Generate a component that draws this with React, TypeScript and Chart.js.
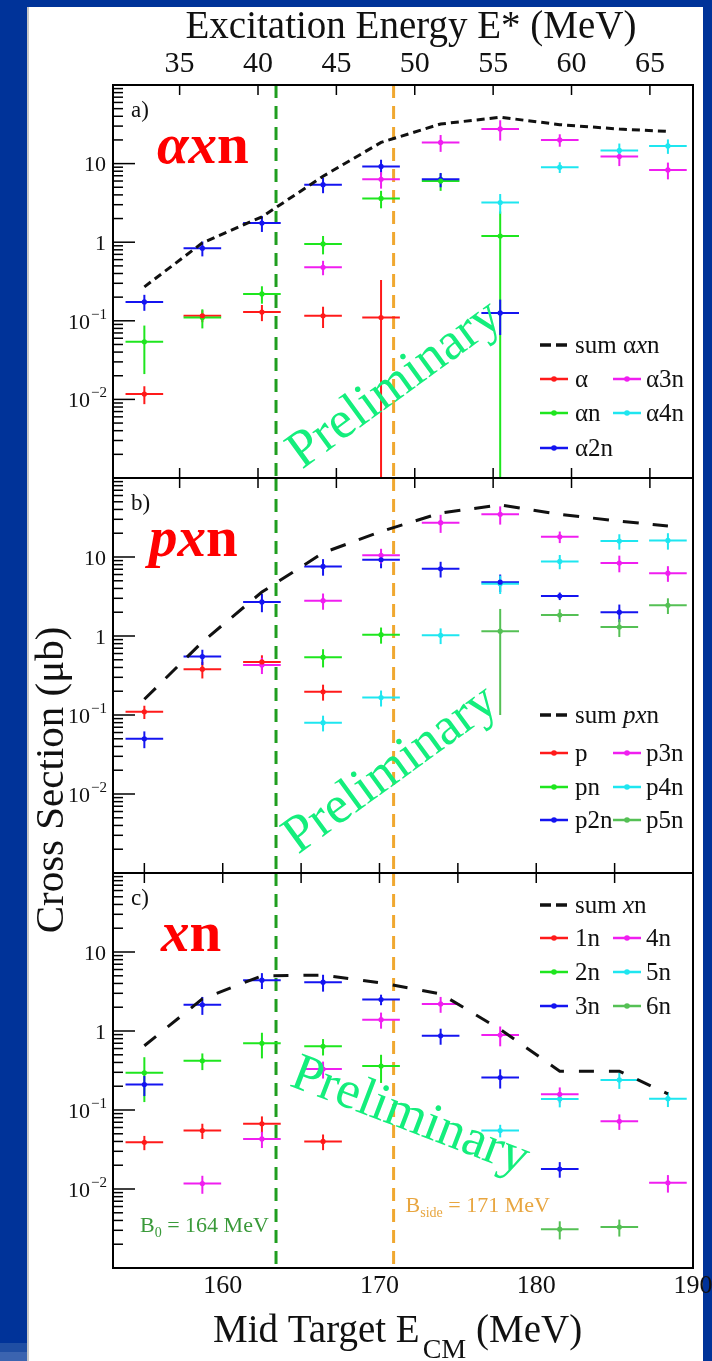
import React, { useEffect, useRef } from "react";
import { Chart, registerables } from "chart.js";
Chart.register(...registerables);

// ---------- data ----------
const E_CM = [155.0, 158.7, 162.5, 166.4, 170.1, 173.9, 177.7, 181.5, 185.3, 188.4];
const X_HALF = 1.2;
const X_MIN = 153.0;
const X_MAX = 190.0;
const Y_MIN = 1e-3;
const Y_MAX = 100;
const E_CM_TICKS = [155, 160, 165, 170, 175, 180, 185];
const E_CM_LABELS = [160, 170, 180, 190];
const E_STAR_TICKS = [35, 40, 45, 50, 55, 60, 65];
const E_STAR_OFFSET = 122.25;
const Y_LABEL_DECADES = [1, 0, -1, -2];
const B0 = 163.4;
const BSIDE = 170.9;

// panel a : alpha xn
const A_ALPHA = [0.0117, 0.116, 0.129, 0.116, 0.110, null, null, null, null, null];
const A_ALPHA_E = [0.003, 0.02, 0.03, 0.035, 0.22, null, null, null, null, null];
const A_ALPHA1N = [0.054, 0.11, 0.22, 0.95, 3.6, 6.0, 1.2, null, null, null];
const A_ALPHA1N_E = [0.033, 0.03, 0.055, 0.25, 0.9, 1.5, 1.25, null, null, null];
const A_ALPHA2N = [0.174, 0.84, 1.75, 5.4, 9.2, 6.3, 0.126, null, null, null];
const A_ALPHA2N_E = [0.04, 0.18, 0.4, 1.2, 2.0, 1.3, 0.06, null, null, null];
const A_ALPHA3N = [null, null, null, 0.48, 6.3, 18.6, 27.6, 20.0, 12.3, 8.3];
const A_ALPHA3N_E = [null, null, null, 0.1, 1.5, 4.5, 8.0, 3.6, 3.0, 2.0];
const A_ALPHA4N = [null, null, null, null, null, null, 3.2, 9.0, 14.7, 16.8];
const A_ALPHA4N_E = [null, null, null, null, null, null, 0.9, 1.4, 3.3, 3.5];
const A_SUM = [0.27, 0.98, 2.1, 6.9, 18.6, 31.9, 38.9, 31.3, 27.5, 25.7];

// panel b : p xn
const B_P = [0.11, 0.38, 0.47, 0.197, null, null, null, null, null, null];
const B_P_E = [0.021, 0.09, 0.1, 0.045, null, null, null, null, null, null];
const B_PN = [null, null, null, 0.54, 1.04, null, null, null, null, null];
const B_PN_E = [null, null, null, 0.14, 0.24, null, null, null, null, null];
const B_P2N = [0.05, 0.55, 2.7, 7.6, 9.2, 7.1, 4.8, 3.2, 2.0, null];
const B_P2N_E = [0.012, 0.12, 0.7, 1.8, 2.0, 1.6, 1.2, 0.35, 0.5, null];
const B_P3N = [null, null, 0.43, 2.8, 10.5, 27.2, 34.7, 18.0, 8.4, 6.25];
const B_P3N_E = [null, null, 0.1, 0.65, 2.2, 7.0, 9.0, 3.0, 2.0, 1.4];
const B_P4N = [null, null, null, 0.08, 0.166, 1.02, 4.6, 8.8, 15.9, 16.2];
const B_P4N_E = [null, null, null, 0.018, 0.038, 0.23, 1.2, 1.8, 3.5, 3.8];
const B_P5N = [null, null, null, null, null, null, 1.15, 1.84, 1.3, 2.45];
const B_P5N_E = [null, null, null, null, null, null, 1.05, 0.34, 0.33, 0.55];
const B_SUM = [0.158, 0.84, 3.6, 11.3, 21, 36, 45.7, 34.6, 28.5, 24.6];

// panel c : xn
const C_1N = [0.039, 0.055, 0.067, 0.04, null, null, null, null, null, null];
const C_1N_E = [0.008, 0.012, 0.016, 0.009, null, null, null, null, null, null];
const C_2N = [0.296, 0.42, 0.7, 0.64, 0.36, null, null, null, null, null];
const C_2N_E = [0.17, 0.1, 0.25, 0.15, 0.14, null, null, null, null, null];
const C_3N = [0.21, 2.15, 4.4, 4.15, 2.5, 0.87, 0.257, 0.0179, null, null];
const C_3N_E = [0.06, 0.55, 1.0, 1.0, 0.38, 0.2, 0.07, 0.004, null, null];
const C_4N = [null, 0.0117, 0.043, 0.33, 1.39, 2.2, 0.89, 0.158, 0.072, 0.012];
const C_4N_E = [null, 0.003, 0.01, 0.08, 0.32, 0.5, 0.25, 0.035, 0.016, 0.003];
const C_5N = [null, null, null, null, null, null, 0.055, 0.138, 0.24, 0.139];
const C_5N_E = [null, null, null, null, null, null, 0.01, 0.03, 0.055, 0.03];
const C_6N = [null, null, null, null, null, null, null, 0.0031, 0.0033, null];
const C_6N_E = [null, null, null, null, null, null, null, 0.0008, 0.0008, null];
const C_SUM = [0.65, 2.55, 5.0, 5.1, 4.07, 2.95, 1.05, 0.31, 0.31, 0.16];

// ---------- styles ----------
const FONT = '"Liberation Serif", "Times New Roman", serif';
const RED = "#ff1a1a";
const GREEN = "#1ee61e";
const BLUE = "#1414f0";
const MAGENTA = "#f01ef0";
const CYAN = "#1ee6f0";
const MIDGREEN = "#55c055";
const PRELIM = "#14ee7c";
const LINE_GREEN = "#1f9e1f";
const LINE_ORANGE = "#f0a830";
const PLOT_LEFT = 113;
const PLOT_RIGHT = 693;
const W = 712;
const H = 1361;

type Part = [string, string];
type Series = { label: Part[]; color: string; y: (number | null)[]; e: (number | null)[] };
type PanelCfg = {
  key: string;
  top: number;
  bottom: number;
  letter: string;
  big: Part[];
  series: Series[];
  sum: number[];
  sumDash: number[];
  sumLabel: Part[];
  legendY: number[];
  topTicks: "estar" | "ecm";
  bottomTicks: "estar" | "ecm" | "none";
  prelim: { dx: number; dy: number; angle: number };
};

const N = (s: string): Part => [s, "n"];
const I = (s: string): Part => [s, "i"];

const PANELS: PanelCfg[] = [
  {
    key: "a", top: 85, bottom: 478, letter: "a)",
    big: [["α", "bi"], ["x", "bi"], ["n", "b"]],
    series: [
      { label: [N("α")], color: RED, y: A_ALPHA, e: A_ALPHA_E },
      { label: [N("αn")], color: GREEN, y: A_ALPHA1N, e: A_ALPHA1N_E },
      { label: [N("α2n")], color: BLUE, y: A_ALPHA2N, e: A_ALPHA2N_E },
      { label: [N("α3n")], color: MAGENTA, y: A_ALPHA3N, e: A_ALPHA3N_E },
      { label: [N("α4n")], color: CYAN, y: A_ALPHA4N, e: A_ALPHA4N_E },
    ],
    sum: A_SUM, sumDash: [8, 5], sumLabel: [N("sum α"), I("x"), N("n")],
    legendY: [260, 294, 328, 363], topTicks: "estar", bottomTicks: "estar",
    prelim: { dx: 282, dy: 300, angle: -36 },
  },
  {
    key: "b", top: 478, bottom: 873, letter: "b)",
    big: [["px", "bi"], ["n", "b"]],
    series: [
      { label: [N("p")], color: RED, y: B_P, e: B_P_E },
      { label: [N("pn")], color: GREEN, y: B_PN, e: B_PN_E },
      { label: [N("p2n")], color: BLUE, y: B_P2N, e: B_P2N_E },
      { label: [N("p3n")], color: MAGENTA, y: B_P3N, e: B_P3N_E },
      { label: [N("p4n")], color: CYAN, y: B_P4N, e: B_P4N_E },
      { label: [N("p5n")], color: MIDGREEN, y: B_P5N, e: B_P5N_E },
    ],
    sum: B_SUM, sumDash: [16, 14], sumLabel: [N("sum "), I("px"), N("n")],
    legendY: [237, 275, 309, 342], topTicks: "estar", bottomTicks: "ecm",
    prelim: { dx: 278, dy: 292, angle: -36 },
  },
  {
    key: "c", top: 873, bottom: 1268, letter: "c)",
    big: [["x", "bi"], ["n", "b"]],
    series: [
      { label: [N("1n")], color: RED, y: C_1N, e: C_1N_E },
      { label: [N("2n")], color: GREEN, y: C_2N, e: C_2N_E },
      { label: [N("3n")], color: BLUE, y: C_3N, e: C_3N_E },
      { label: [N("4n")], color: MAGENTA, y: C_4N, e: C_4N_E },
      { label: [N("5n")], color: CYAN, y: C_5N, e: C_5N_E },
      { label: [N("6n")], color: MIDGREEN, y: C_6N, e: C_6N_E },
    ],
    sum: C_SUM, sumDash: [15, 15], sumLabel: [N("sum "), I("x"), N("n")],
    legendY: [32, 65, 99, 133], topTicks: "ecm", bottomTicks: "none",
    prelim: { dx: 297, dy: 244, angle: 21 },
  },
];

function fontFor(style: string, size: number) {
  if (style === "bi") return `italic bold ${size}px ${FONT}`;
  if (style === "b") return `bold ${size}px ${FONT}`;
  if (style === "i") return `italic ${size}px ${FONT}`;
  return `${size}px ${FONT}`;
}

function drawParts(ctx: CanvasRenderingContext2D, parts: Part[], x: number, y: number, size: number) {
  let cx = x;
  for (const [t, st] of parts) {
    ctx.font = fontFor(st, size);
    ctx.fillText(t, cx, y);
    cx += ctx.measureText(t).width;
  }
}

function seg(ctx: CanvasRenderingContext2D, x0: number, y0: number, x1: number, y1: number) {
  ctx.beginPath();
  ctx.moveTo(x0, y0);
  ctx.lineTo(x1, y1);
  ctx.stroke();
}

function makePlugin(p: PanelCfg) {
  return {
    id: "panel_" + p.key,
    beforeDatasetsDraw(chart: any) {
      const { ctx, chartArea: ca, scales } = chart;
      const xs = scales.x;
      const ys = scales.y;
      ctx.save();
      ctx.beginPath();
      ctx.rect(ca.left, ca.top, ca.right - ca.left, ca.bottom - ca.top);
      ctx.clip();
      const vlines: [number, string][] = [[B0, LINE_GREEN], [BSIDE, LINE_ORANGE]];
      for (const [v, col] of vlines) {
        const px = xs.getPixelForValue(v);
        ctx.strokeStyle = col;
        ctx.lineWidth = 3;
        ctx.setLineDash([13, 8]);
        seg(ctx, px, ca.top, px, ca.bottom);
      }
      ctx.setLineDash([]);
      chart.data.datasets.forEach((ds: any) => {
        if (!ds.errY) return;
        ctx.strokeStyle = ds.borderColor;
        ctx.lineWidth = 2;
        ds.data.forEach((pt: any, j: number) => {
          const e = ds.errY[j];
          const cx = xs.getPixelForValue(pt.x);
          const cy = ys.getPixelForValue(pt.y);
          const x0 = xs.getPixelForValue(pt.x - X_HALF);
          const x1 = xs.getPixelForValue(pt.x + X_HALF);
          const lo = pt.y - e > 0 ? pt.y - e : Y_MIN / 10;
          const y0 = ys.getPixelForValue(lo);
          const y1 = ys.getPixelForValue(pt.y + e);
          seg(ctx, x0, cy, x1, cy);
          seg(ctx, cx, y0, cx, y1);
        });
      });
      ctx.restore();
    },
    afterDraw(chart: any) {
      const { ctx, chartArea: ca, scales } = chart;
      const xs = scales.x;
      const xE = scales.xE;
      const ys = scales.y;
      ctx.save();
      // frame
      ctx.strokeStyle = "#000";
      ctx.lineWidth = 2;
      ctx.strokeRect(ca.left, ca.top, ca.right - ca.left, ca.bottom - ca.top);
      // y ticks
      ctx.lineWidth = 1.5;
      for (let d = -3; d <= 2; d++) {
        for (let k = 1; k <= 9; k++) {
          const v = k * Math.pow(10, d);
          if (v <= Y_MIN * 1.0001 || v >= Y_MAX * 0.9999) continue;
          const py = ys.getPixelForValue(v);
          seg(ctx, ca.left, py, ca.left + (k === 1 ? 22 : 10), py);
        }
      }
      // x ticks
      const tickList = (kind: string) =>
        kind === "estar"
          ? E_STAR_TICKS.map((t) => xE.getPixelForValue(t))
          : E_CM_TICKS.map((t) => xs.getPixelForValue(t));
      for (const px of tickList(p.topTicks)) seg(ctx, px, ca.top, px, ca.top + 10);
      if (p.bottomTicks !== "none") for (const px of tickList(p.bottomTicks)) seg(ctx, px, ca.bottom, px, ca.bottom - 10);
      // y labels
      ctx.fillStyle = "#111";
      ctx.textBaseline = "middle";
      for (const d of Y_LABEL_DECADES) {
        const py = ys.getPixelForValue(Math.pow(10, d)) + 2;
        const rx = ca.left - 7;
        if (d >= 0) {
          ctx.textAlign = "right";
          ctx.font = `22px ${FONT}`;
          ctx.fillText(d === 1 ? "10" : "1", rx, py);
        } else {
          ctx.textAlign = "left";
          ctx.font = `22px ${FONT}`;
          const w1 = ctx.measureText("10").width;
          ctx.font = `15px ${FONT}`;
          const sup = "\u2212" + Math.abs(d);
          const w2 = ctx.measureText(sup).width;
          const sx = rx - w1 - w2;
          ctx.font = `22px ${FONT}`;
          ctx.fillText("10", sx, py);
          ctx.font = `15px ${FONT}`;
          ctx.fillText(sup, sx + w1 + 1, py - 8);
        }
      }
      // panel letter and reaction label
      ctx.textAlign = "left";
      ctx.textBaseline = "alphabetic";
      ctx.fillStyle = "#111";
      ctx.font = `23px ${FONT}`;
      ctx.fillText(p.letter, ca.left + 18, ca.top + 32);
      ctx.fillStyle = "#ff0000";
      const bigX = p.key === "a" ? 44 : p.key === "b" ? 36 : 48;
      drawParts(ctx, p.big, ca.left + bigX, ca.top + 78, 57);
      // legend
      const lx1 = ca.left + 427;
      const lx2 = ca.left + 500;
      const [sy, r1, r2, r3] = p.legendY.map((v) => ca.top + v);
      ctx.strokeStyle = "#111";
      ctx.lineWidth = 3.5;
      seg(ctx, lx1, sy, lx1 + 11, sy);
      seg(ctx, lx1 + 16, sy, lx1 + 27, sy);
      ctx.fillStyle = "#111";
      ctx.textBaseline = "middle";
      drawParts(ctx, p.sumLabel, lx1 + 35, sy + 1, 25);
      const rows = [r1, r2, r3];
      p.series.forEach((s, i) => {
        const x = i < 3 ? lx1 : lx2;
        const y = rows[i % 3];
        ctx.strokeStyle = s.color;
        ctx.fillStyle = s.color;
        ctx.lineWidth = 2.5;
        seg(ctx, x, y, x + 28, y);
        ctx.beginPath();
        ctx.arc(x + 14, y, 2.8, 0, Math.PI * 2);
        ctx.fill();
        ctx.fillStyle = "#111";
        drawParts(ctx, s.label, x + (i < 3 ? 35 : 33), y + 1, 25);
      });
      // Preliminary
      ctx.save();
      ctx.translate(ca.left + p.prelim.dx, ca.top + p.prelim.dy);
      ctx.rotate((p.prelim.angle * Math.PI) / 180);
      ctx.fillStyle = PRELIM;
      ctx.textAlign = "center";
      ctx.textBaseline = "middle";
      ctx.font = `53px ${FONT}`;
      ctx.fillText("Preliminary", 0, 0);
      ctx.restore();

      ctx.fillStyle = "#111";
      ctx.textBaseline = "alphabetic";
      if (p.key === "a") {
        ctx.textAlign = "center";
        ctx.font = `39px ${FONT}`;
        ctx.fillText("Excitation Energy E* (MeV)", 411, 38);
        ctx.font = `30px ${FONT}`;
        for (const t of E_STAR_TICKS) ctx.fillText(String(t), xE.getPixelForValue(t), 72);
      }
      if (p.key === "b") {
        ctx.save();
        ctx.translate(63, 780);
        ctx.rotate(-Math.PI / 2);
        ctx.textAlign = "center";
        ctx.font = `41px ${FONT}`;
        ctx.fillText("Cross Section (\u03bcb)", 0, 0);
        ctx.restore();
      }
      if (p.key === "c") {
        ctx.textAlign = "center";
        ctx.font = `26px ${FONT}`;
        for (const t of E_CM_LABELS) ctx.fillText(String(t), xs.getPixelForValue(t), ca.bottom + 25);
        ctx.textAlign = "left";
        let x = 213;
        ctx.font = `39px ${FONT}`;
        ctx.fillText("Mid Target E", x, 1342);
        x += ctx.measureText("Mid Target E").width + 3;
        ctx.font = `28px ${FONT}`;
        ctx.fillText("CM", x, 1358);
        x += ctx.measureText("CM").width;
        ctx.font = `39px ${FONT}`;
        ctx.fillText(" (MeV)", x, 1342);
        // B labels
        const drawB = (sub: string, rest: string, col: string, bx: number, by: number) => {
          ctx.fillStyle = col;
          ctx.font = `22px ${FONT}`;
          ctx.fillText("B", bx, by);
          let cx = bx + ctx.measureText("B").width;
          ctx.font = `14px ${FONT}`;
          ctx.fillText(sub, cx, by + 5);
          cx += ctx.measureText(sub).width;
          ctx.font = `22px ${FONT}`;
          ctx.fillText(rest, cx, by);
        };
        drawB("0", " = 164 MeV", "#3a9a3a", ca.left + 27, ca.top + 359);
        drawB("side", " = 171 MeV", "#e8a640", xs.getPixelForValue(BSIDE) + 12, ca.top + 339);
      }
      ctx.restore();
    },
  };
}

function PanelChart({ cfg }: { cfg: PanelCfg }) {
  const ref = useRef<HTMLCanvasElement>(null);
  useEffect(() => {
    const canvas = ref.current!;
    const datasets: any[] = [];
    cfg.series.forEach((s) => {
      const data: any[] = [];
      const errY: number[] = [];
      E_CM.forEach((x, i) => {
        const y = s.y[i];
        if (y != null) {
          data.push({ x, y });
          errY.push(s.e[i] ?? 0);
        }
      });
      datasets.push({
        data, errY,
        backgroundColor: s.color, borderColor: s.color,
        pointRadius: 2.6, pointHoverRadius: 2.6, pointBorderWidth: 0, showLine: false,
      });
    });
    datasets.push({
      data: E_CM.map((x, i) => ({ x, y: cfg.sum[i] })),
      showLine: true, borderColor: "#111", borderWidth: 3, borderDash: cfg.sumDash,
      pointRadius: 0, fill: false, tension: 0,
    });
    const chart = new Chart(canvas, {
      type: "scatter",
      data: { datasets },
      options: {
        responsive: false,
        animation: false,
        devicePixelRatio: 1,
        events: [],
        layout: { padding: { left: PLOT_LEFT, right: W - PLOT_RIGHT, top: cfg.top, bottom: H - cfg.bottom } },
        scales: {
          x: { type: "linear", min: X_MIN, max: X_MAX, display: false },
          xE: { type: "linear", axis: "x", position: "top", min: X_MIN - E_STAR_OFFSET, max: X_MAX - E_STAR_OFFSET, display: false },
          y: { type: "logarithmic", min: Y_MIN, max: Y_MAX, display: false },
        },
        plugins: { legend: { display: false }, tooltip: { enabled: false } },
      } as any,
      plugins: [makePlugin(cfg) as any],
    });
    return () => chart.destroy();
  }, [cfg]);
  return (
    <canvas
      ref={ref}
      width={W}
      height={H}
      style={{ position: "absolute", left: 0, top: 0, width: W, height: H }}
    />
  );
}

export default function App() {
  return (
    <div style={{ position: "absolute", left: 0, top: 0, width: W, height: H, background: "#003399", overflow: "hidden" }}>
      <div style={{ position: "absolute", left: 27, top: 7, width: 2, height: H - 7, background: "#c8c8c8" }} />
      <div style={{ position: "absolute", left: 29, top: 7, width: 674, height: H - 7, background: "#ffffff" }} />
      <div style={{ position: "absolute", left: 0, top: 1343, width: 27, height: 9, background: "#1f4ea3" }} />
      <div style={{ position: "absolute", left: 0, top: 1352, width: 27, height: 9, background: "#3b64b0" }} />
      {PANELS.map((p) => (
        <PanelChart key={p.key} cfg={p} />
      ))}
    </div>
  );
}
